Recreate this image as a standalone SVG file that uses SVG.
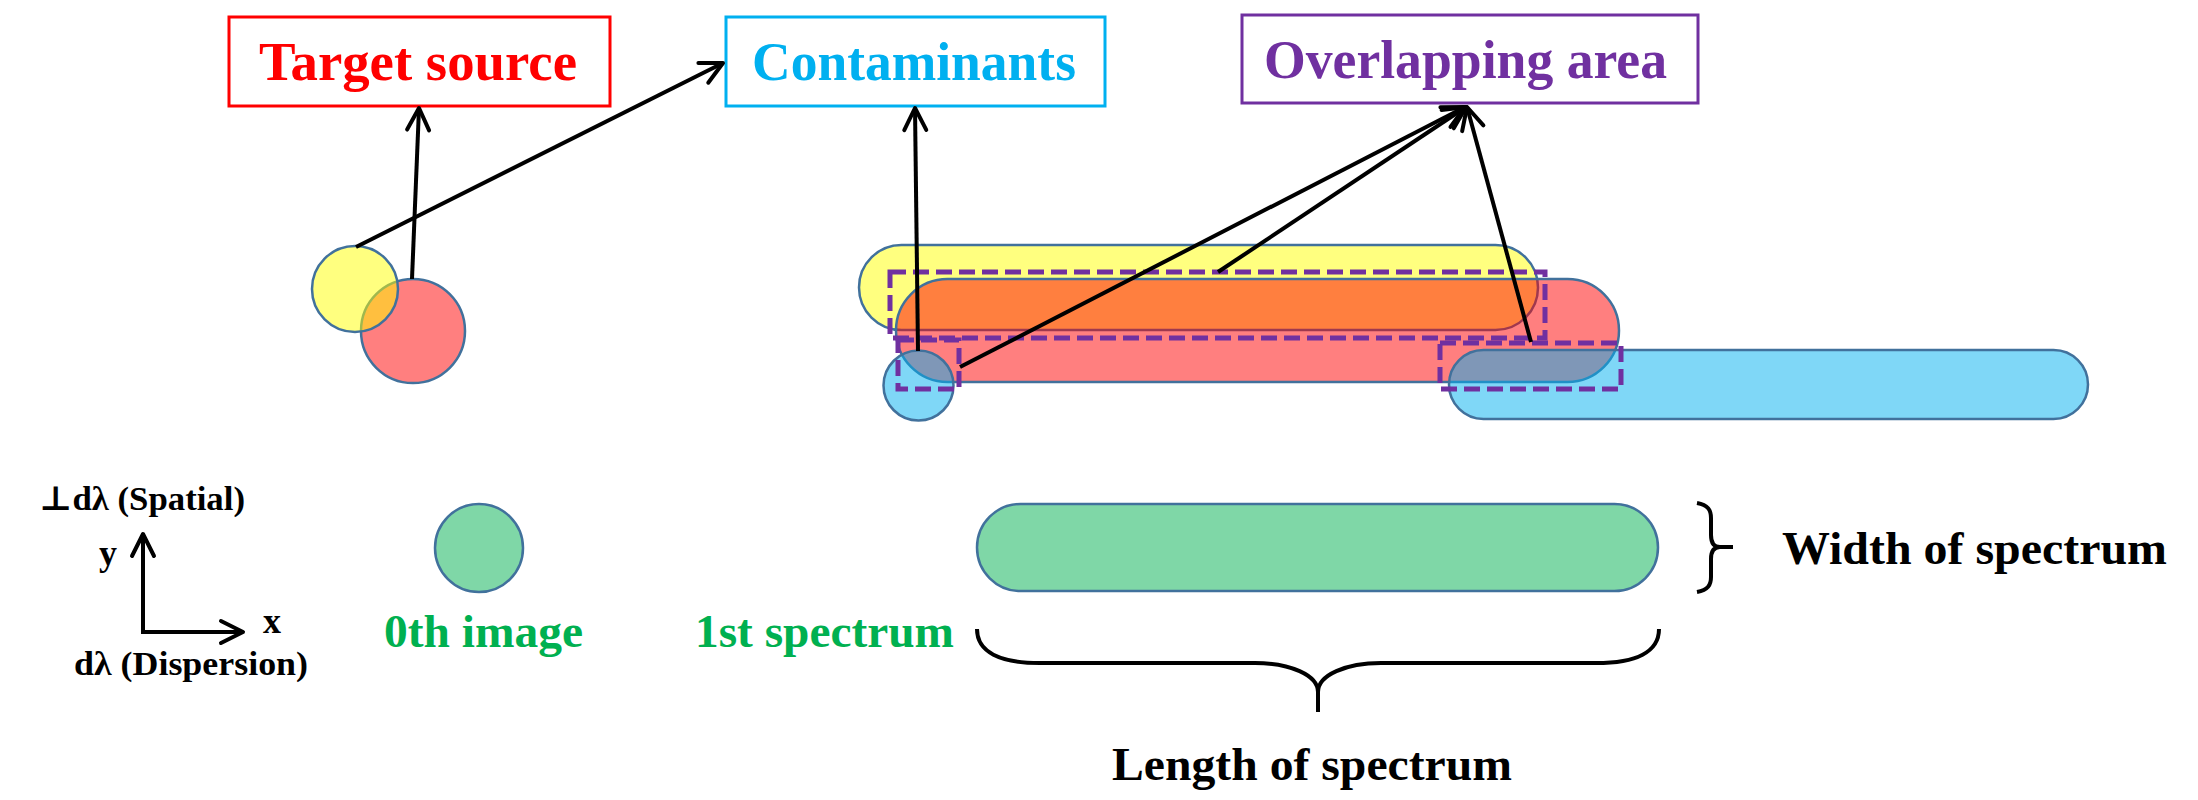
<svg xmlns="http://www.w3.org/2000/svg" width="2198" height="800" viewBox="0 0 2198 800">
<defs>
<marker id="ah" markerUnits="userSpaceOnUse" markerWidth="40" markerHeight="40" viewBox="-30 -20 40 40" refX="0" refY="0" orient="auto">
<path d="M -22 -11 L 0 0 L -22 11" fill="none" stroke="#000" stroke-width="4" stroke-linecap="round" stroke-linejoin="round"/>
</marker>
<style>
.t{font-family:"Liberation Serif","DejaVu Serif",serif;font-weight:bold}
.sh{stroke:#41719C;stroke-width:2.5}
.y{fill:#FFFF00;fill-opacity:.5}
.r{fill:#FF0000;fill-opacity:.5}
.c{fill:#00B0F0;fill-opacity:.5}
.g{fill:#00B050;fill-opacity:.5}
.dash{fill:none;stroke:#7030A0;stroke-width:5;stroke-dasharray:16 7}
.ar{fill:none;stroke:#000;stroke-width:4;marker-end:url(#ah)}
.br{fill:none;stroke:#000;stroke-width:4}
</style>
</defs>
<rect width="2198" height="800" fill="#fff"/>

<g id="target-source">
<rect x="229" y="17" width="381" height="89" fill="#fff" stroke="#FF0000" stroke-width="3"/>
<text class="t" x="259" y="80" font-size="54" fill="#FF0000" textLength="318" lengthAdjust="spacingAndGlyphs">Target source</text>
</g>
<g id="contaminants">
<rect x="726" y="17" width="379" height="89" fill="#fff" stroke="#00B0F0" stroke-width="3"/>
<text class="t" x="752" y="80" font-size="54" fill="#00B0F0" textLength="324" lengthAdjust="spacingAndGlyphs">Contaminants</text>
</g>
<g id="overlapping-area">
<rect x="1242" y="15" width="456" height="88" fill="#fff" stroke="#7030A0" stroke-width="3"/>
<text class="t" x="1264" y="78" font-size="54" fill="#7030A0" textLength="403" lengthAdjust="spacingAndGlyphs">Overlapping area</text>
</g>

<g id="target-circles">
<circle class="r sh" cx="413" cy="331" r="52"/>
<circle class="y sh" cx="355" cy="289" r="43"/>
</g>

<g id="spectra-overlap">
<rect class="y sh" x="859" y="245" width="679" height="85" rx="42.5"/>
<rect class="r sh" x="896" y="279" width="723" height="103" rx="51.5"/>
<circle class="c sh" cx="918.5" cy="385.5" r="35"/>
<rect class="c sh" x="1449" y="350" width="639" height="69" rx="34.5"/>
</g>

<g id="overlap-boxes">
<rect class="dash" x="890" y="272" width="655" height="66"/>
<rect class="dash" x="898" y="340" width="61" height="49"/>
<rect class="dash" x="1440" y="343" width="181" height="46"/>
</g>

<g id="axes">
<text class="t" x="39" y="510" font-size="34" fill="#000" textLength="206" lengthAdjust="spacingAndGlyphs">⊥dλ (Spatial)</text>
<text class="t" x="99" y="565" font-size="36" fill="#000">y</text>
<text class="t" x="263" y="633" font-size="36" fill="#000">x</text>
<text class="t" x="74" y="675" font-size="34" fill="#000" textLength="234" lengthAdjust="spacingAndGlyphs">dλ (Dispersion)</text>
<path class="ar" d="M 143 632 L 143 534"/>
<path class="ar" d="M 141 632 L 243 632"/>
</g>

<g id="zeroth-image">
<circle class="g sh" cx="479" cy="548" r="44"/>
<text class="t" x="384" y="647" font-size="47" fill="#00B050" textLength="199" lengthAdjust="spacingAndGlyphs">0th image</text>
</g>

<g id="first-spectrum">
<rect class="g sh" x="977" y="504" width="681" height="87" rx="43.5"/>
<text class="t" x="695" y="647" font-size="47" fill="#00B050" textLength="259" lengthAdjust="spacingAndGlyphs">1st spectrum</text>
</g>

<g id="length-brace">
<path class="br" d="M 977 629 C 977 652 1000 663 1040 663 L 1255 663 C 1290 663 1318 675 1318 692 C 1318 675 1346 663 1381 663 L 1596 663 C 1636 663 1659 652 1659 629 M 1318 690 L 1318 712"/>
<text class="t" x="1112" y="780" font-size="47" fill="#000" textLength="400" lengthAdjust="spacingAndGlyphs">Length of spectrum</text>
</g>

<g id="width-brace">
<path class="br" stroke-width="3.5" d="M 1697 503 C 1708 505 1711 510 1711 518 L 1711 535 C 1711 543 1714 547 1720 547 L 1733 547 M 1720 547 C 1714 547 1711 551 1711 559 L 1711 577 C 1711 585 1708 590 1697 592"/>
<text class="t" x="1782" y="564" font-size="47" fill="#000" textLength="385" lengthAdjust="spacingAndGlyphs">Width of spectrum</text>
</g>

<g id="connectors">
<path class="ar" d="M 412 279 L 419 108"/>
<path class="ar" d="M 356 247 L 723 63"/>
<path class="ar" d="M 918 351 L 915 108"/>
<path class="ar" d="M 960 367 L 1465 107"/>
<path class="ar" d="M 1218 272 L 1466 107"/>
<path class="ar" d="M 1531 342 L 1467 107"/>
</g>
</svg>
